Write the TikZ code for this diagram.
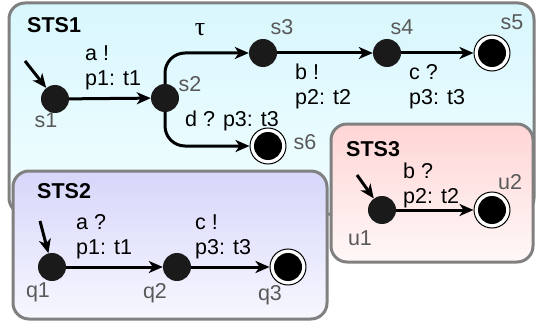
\documentclass[tikz,border=0pt]{standalone}
\usepackage{fontspec}
\setmainfont{Liberation Sans}
\newfontfamily\taufont{Liberation Serif}
\usetikzlibrary{arrows.meta}
\definecolor{bordergray}{HTML}{808080}
\definecolor{nodeblack}{HTML}{1A1A1A}
\definecolor{labgray}{HTML}{595959}
\definecolor{cyanTop}{HTML}{D8F7FD}
\definecolor{cyanBot}{HTML}{F2FEFF}
\definecolor{blueTop}{HTML}{D6D6FA}
\definecolor{blueBot}{HTML}{F7F7FF}
\definecolor{redTop}{HTML}{FFD5D5}
\definecolor{redBot}{HTML}{FFF8F8}
\tikzset{
  box/.style={draw=bordergray, line width=3pt, rounded corners=16pt},
  state/.style={circle, fill=nodeblack, minimum size=28pt, inner sep=0pt},
  acc/.style={circle, draw=black, line width=1pt, fill=white, minimum size=36pt, inner sep=0pt,
    path picture={\fill[black] (path picture bounding box.center) circle (14pt);}},
  edge/.style={line width=3pt, -{Stealth[length=14pt,width=12pt,inset=4pt]}},
  slab/.style={text=labgray, font=\fontsize{21.5}{25}\selectfont, inner sep=0pt},
  elab/.style={text=black, font=\fontsize{21.5}{25}\selectfont, inner sep=0pt, anchor=base west, align=left},
  title/.style={text=black, font=\fontsize{21.5}{25}\selectfont\bfseries, inner sep=0pt, anchor=base west}
}
\begin{document}
\begin{tikzpicture}[x=1pt,y=-1pt]
\useasboundingbox (0,0) rectangle (536,329);
% boxes
\path[box, top color=cyanTop, bottom color=cyanBot] (9,3) rectangle (534,214);
\path[box, top color=blueTop, bottom color=blueBot] (13,171) rectangle (327,319);
\path[box, top color=redTop, bottom color=redBot] (331,124) rectangle (533,262);
% titles
\node[title] (t1) at (27,33) {STS1};
\node[title] (t2) at (37,198) {STS2};
\node[title] (t3) at (346,157) {STS3};
% STS1 states
\node[state] (s1) at (55,99) {};
\node[state] (s2) at (165,98) {};
\node[state] (s3) at (263,53) {};
\node[state] (s4) at (387,53) {};
\node[acc] (s5) at (492,53) {};
\node[acc] (s6) at (268,146) {};
\node[slab] (ls1) at (46,120) {s1};
\node[slab] (ls2) at (190,84) {s2};
\node[slab] (ls3) at (282,27) {s3};
\node[slab] (ls4) at (402,27) {s4};
\node[slab] (ls5) at (512,22) {s5};
\node[slab] (ls6) at (305,142) {s6};
\coordinate (i1) at (25,61);
\draw[edge] (i1) -- (s1);
\draw[edge] (s1) -- (s2);
\draw[edge, rounded corners=20pt] (s2.north) |- (s3.west);
\draw[edge, rounded corners=20pt] (s2.south) |- (s6.west);
\draw[edge] (s3) -- (s4);
\draw[edge] (s4) -- (s5);
\node[elab] (e1) at (85,86) {a !\\p1: t1};
\node[text=black, font=\fontsize{26}{28}\selectfont\taufont, inner sep=0pt] (e2) at (200,30) {τ};
\node[elab] (e3) at (295,105) {b !\\p2: t2};
\node[elab] (e4) at (409,105) {c ?\\p3: t3};
\node[elab] (e5) at (185,126) {d ? p3: t3};
% STS2 states
\node[state] (q1) at (52,267) {};
\node[state] (q2) at (177,267) {};
\node[acc] (q3) at (288,267) {};
\node[slab] (lq1) at (38,292) {q1};
\node[slab] (lq2) at (155,293) {q2};
\node[slab] (lq3) at (270,295) {q3};
\coordinate (i2) at (40,221);
\draw[edge] (i2) -- (q1);
\draw[edge] (q1) -- (q2);
\draw[edge] (q2) -- (q3);
\node[elab] (f1) at (76,254) {a ?\\p1: t1};
\node[elab] (f2) at (195,254) {c !\\p3: t3};
% STS3 states
\node[state] (u1) at (382,210) {};
\node[acc] (u2) at (492,210) {};
\node[slab] (lu1) at (360,238) {u1};
\node[slab] (lu2) at (510,182) {u2};
\coordinate (i3) at (357,175);
\draw[edge] (i3) -- (u1);
\draw[edge] (u1) -- (u2);
\node[elab] (g1) at (403,203) {b ?\\p2: t2};
\end{tikzpicture}
\end{document}
